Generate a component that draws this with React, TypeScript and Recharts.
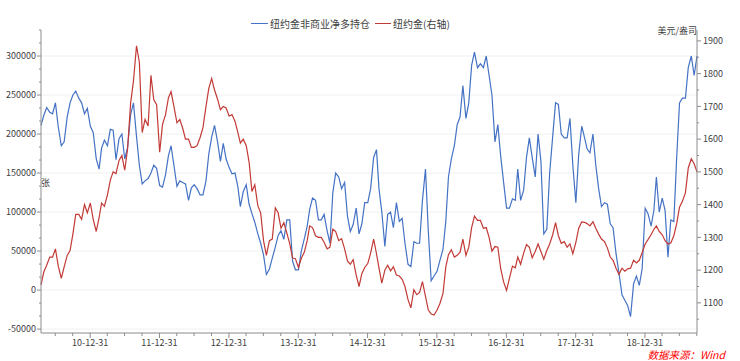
import React from 'react';
import { LineChart, Line, XAxis, YAxis, CartesianGrid } from 'recharts';

// semi-monthly sample dates
const dates = [
  '2010-04-16', '2010-05-01', '2010-05-16', '2010-06-01', '2010-06-16', '2010-07-01', '2010-07-16', '2010-08-01', '2010-08-16',
  '2010-09-01', '2010-09-16', '2010-10-01', '2010-10-16', '2010-11-01', '2010-11-16', '2010-12-01', '2010-12-16',
  '2011-01-01', '2011-01-16', '2011-02-01', '2011-02-16', '2011-03-01', '2011-03-16', '2011-04-01', '2011-04-16',
  '2011-05-01', '2011-05-16', '2011-06-01', '2011-06-16', '2011-07-01', '2011-07-16', '2011-08-01', '2011-08-16',
  '2011-09-01', '2011-09-16', '2011-10-01', '2011-10-16', '2011-11-01', '2011-11-16', '2011-12-01', '2011-12-16',
  '2012-01-01', '2012-01-16', '2012-02-01', '2012-02-16', '2012-03-01', '2012-03-16', '2012-04-01', '2012-04-16',
  '2012-05-01', '2012-05-16', '2012-06-01', '2012-06-16', '2012-07-01', '2012-07-16', '2012-08-01', '2012-08-16',
  '2012-09-01', '2012-09-16', '2012-10-01', '2012-10-16', '2012-11-01', '2012-11-16', '2012-12-01', '2012-12-16',
  '2013-01-01', '2013-01-16', '2013-02-01', '2013-02-16', '2013-03-01', '2013-03-16', '2013-04-01', '2013-04-16',
  '2013-05-01', '2013-05-16', '2013-06-01', '2013-06-16', '2013-07-01', '2013-07-16', '2013-08-01', '2013-08-16',
  '2013-09-01', '2013-09-16', '2013-10-01', '2013-10-16', '2013-11-01', '2013-11-16', '2013-12-01', '2013-12-16',
  '2014-01-01', '2014-01-16', '2014-02-01', '2014-02-16', '2014-03-01', '2014-03-16', '2014-04-01', '2014-04-16',
  '2014-05-01', '2014-05-16', '2014-06-01', '2014-06-16', '2014-07-01', '2014-07-16', '2014-08-01', '2014-08-16',
  '2014-09-01', '2014-09-16', '2014-10-01', '2014-10-16', '2014-11-01', '2014-11-16', '2014-12-01', '2014-12-16',
  '2015-01-01', '2015-01-16', '2015-02-01', '2015-02-16', '2015-03-01', '2015-03-16', '2015-04-01', '2015-04-16',
  '2015-05-01', '2015-05-16', '2015-06-01', '2015-06-16', '2015-07-01', '2015-07-16', '2015-08-01', '2015-08-16',
  '2015-09-01', '2015-09-16', '2015-10-01', '2015-10-16', '2015-11-01', '2015-11-16', '2015-12-01', '2015-12-16',
  '2016-01-01', '2016-01-16', '2016-02-01', '2016-02-16', '2016-03-01', '2016-03-16', '2016-04-01', '2016-04-16',
  '2016-05-01', '2016-05-16', '2016-06-01', '2016-06-16', '2016-07-01', '2016-07-16', '2016-08-01', '2016-08-16',
  '2016-09-01', '2016-09-16', '2016-10-01', '2016-10-16', '2016-11-01', '2016-11-16', '2016-12-01', '2016-12-16',
  '2017-01-01', '2017-01-16', '2017-02-01', '2017-02-16', '2017-03-01', '2017-03-16', '2017-04-01', '2017-04-16',
  '2017-05-01', '2017-05-16', '2017-06-01', '2017-06-16', '2017-07-01', '2017-07-16', '2017-08-01', '2017-08-16',
  '2017-09-01', '2017-09-16', '2017-10-01', '2017-10-16', '2017-11-01', '2017-11-16', '2017-12-01', '2017-12-16',
  '2018-01-01', '2018-01-16', '2018-02-01', '2018-02-16', '2018-03-01', '2018-03-16', '2018-04-01', '2018-04-16',
  '2018-05-01', '2018-05-16', '2018-06-01', '2018-06-16', '2018-07-01', '2018-07-16', '2018-08-01', '2018-08-16',
  '2018-09-01', '2018-09-16', '2018-10-01', '2018-10-16', '2018-11-01', '2018-11-16', '2018-12-01', '2018-12-16',
  '2019-01-01', '2019-01-16', '2019-02-01', '2019-02-16', '2019-03-01', '2019-03-16', '2019-04-01', '2019-04-16',
  '2019-05-01', '2019-05-16', '2019-06-01', '2019-06-16', '2019-07-01', '2019-07-16', '2019-08-01', '2019-08-16',
  '2019-09-01', '2019-09-16', '2019-10-01',
];

// 纽约金非商业净多持仓 (张)
const netLong = [
  211000, 224000, 234000, 228000, 226000, 240000, 209000, 185000, 190000, 222000,
  240000, 250000, 255000, 246000, 240000, 226000, 233000, 210000, 202000, 168000,
  155000, 182000, 192000, 185000, 206000, 205000, 167000, 194000, 200000, 168000,
  183000, 225000, 240000, 197000, 160000, 136000, 140000, 143000, 150000, 160000,
  156000, 134000, 132000, 148000, 172000, 185000, 160000, 133000, 140000, 138000,
  136000, 115000, 131000, 135000, 130000, 122000, 122000, 140000, 175000, 196000,
  211000, 190000, 165000, 188000, 168000, 157000, 149000, 150000, 132000, 107000,
  126000, 135000, 110000, 98000, 87000, 72000, 60000, 45000, 20000, 27000,
  41000, 55000, 70000, 76000, 65000, 90000, 90000, 37000, 26000, 26000,
  50000, 66000, 82000, 103000, 118000, 115000, 90000, 90000, 97000, 76000,
  60000, 125000, 150000, 145000, 130000, 138000, 95000, 75000, 84000, 105000,
  72000, 85000, 112000, 112000, 130000, 170000, 180000, 130000, 100000, 56000,
  97000, 100000, 80000, 112000, 88000, 92000, 60000, 33000, 30000, 62000,
  60000, 60000, 115000, 155000, 75000, 12000, 18000, 24000, 38000, 52000,
  88000, 145000, 168000, 185000, 212000, 222000, 262000, 220000, 240000, 288000,
  305000, 285000, 290000, 285000, 300000, 275000, 250000, 190000, 212000, 172000,
  139000, 105000, 105000, 117000, 115000, 155000, 115000, 128000, 170000, 195000,
  170000, 145000, 200000, 165000, 72000, 78000, 150000, 197000, 240000, 238000,
  200000, 195000, 195000, 220000, 160000, 112000, 174000, 210000, 195000, 181000,
  176000, 200000, 160000, 130000, 107000, 112000, 110000, 85000, 80000, 46000,
  22000, -6000, -13000, -20000, -34000, 8000, 18000, 6000, 27000, 105000,
  98000, 82000, 102000, 145000, 100000, 118000, 102000, 42000, 90000, 88000,
  170000, 240000, 246000, 246000, 285000, 300000, 275000, 300000,
];

// 纽约金 (美元/盎司)
const goldPrice = [
  1155, 1195, 1215, 1240, 1240, 1265, 1212, 1175, 1210, 1245,
  1260, 1310, 1370, 1370, 1355, 1400, 1375, 1405, 1355, 1318,
  1360, 1405, 1395, 1430, 1475, 1500, 1495, 1535, 1550, 1505,
  1570, 1710, 1777, 1885, 1835, 1620, 1660, 1640, 1795, 1720,
  1705, 1560, 1645, 1675, 1726, 1745, 1700, 1650, 1660, 1634,
  1600, 1600, 1575, 1575, 1580, 1605, 1635, 1700, 1756, 1785,
  1750, 1722, 1690, 1700, 1695, 1670, 1675, 1654, 1620, 1588,
  1600, 1580, 1530, 1440, 1461, 1397, 1375, 1290, 1245, 1290,
  1295, 1390, 1375, 1328, 1345, 1313, 1280, 1237, 1235, 1208,
  1236, 1255, 1290, 1335, 1330, 1305, 1300, 1300, 1285, 1265,
  1270, 1325, 1318, 1290, 1296, 1265, 1228, 1218, 1232, 1185,
  1150, 1190, 1208, 1220, 1252, 1295, 1250, 1207, 1160, 1200,
  1215, 1198, 1210, 1185, 1182, 1172, 1150, 1110, 1085, 1140,
  1125, 1132, 1165, 1120, 1078, 1066, 1063, 1078, 1098, 1128,
  1210, 1247, 1262, 1240, 1245, 1255, 1295, 1245, 1270, 1330,
  1365, 1352, 1352, 1328, 1330, 1300, 1258, 1272, 1270, 1205,
  1165, 1138, 1175, 1212, 1207, 1240, 1218, 1252, 1278, 1270,
  1238, 1257, 1280, 1257, 1233, 1260, 1280, 1308, 1345, 1305,
  1282, 1287, 1270, 1280, 1250, 1285, 1328, 1347, 1346, 1342,
  1335, 1348, 1328, 1310, 1295, 1287, 1268, 1240, 1230, 1205,
  1187, 1206, 1197, 1204, 1206, 1230, 1222, 1230, 1253, 1280,
  1293, 1308, 1325, 1335, 1318, 1308, 1290, 1280, 1283, 1305,
  1342, 1392, 1410, 1436, 1512, 1540, 1525, 1500,
];

const seriesNames = ['纽约金非商业净多持仓', '纽约金(右轴)'];

const xMinorTicks = [
  '2010-06-30', '2010-09-30', '2011-03-31', '2011-06-30', '2011-09-30', '2012-03-31', '2012-06-30', '2012-09-30',
  '2013-03-31', '2013-06-30', '2013-09-30', '2014-03-31', '2014-06-30', '2014-09-30', '2015-03-31', '2015-06-30',
  '2015-09-30', '2016-03-31', '2016-06-30', '2016-09-30', '2017-03-31', '2017-06-30', '2017-09-30', '2018-03-31',
  '2018-06-30', '2018-09-30', '2019-03-31', '2019-06-30', '2019-09-30',
];
const xLabelTicks = [
  '2010-12-31', '2011-12-31', '2012-12-31', '2013-12-31', '2014-12-31', '2015-12-31', '2016-12-31', '2017-12-31', '2018-12-31',
];
const xTickLabels = ['10-12-31', '11-12-31', '12-12-31', '13-12-31', '14-12-31', '15-12-31', '16-12-31', '17-12-31', '18-12-31'];

const leftMajorTicks = [-50000, 0, 50000, 100000, 150000, 200000, 250000, 300000];
const leftMinorTicks = [
  -33333, -16667, 16667, 33333, 66667, 83333, 116667, 133333, 166667, 183333,
  216667, 233333, 266667, 283333, 316667, 333333,
];
const rightMajorTicks = [1100, 1200, 1300, 1400, 1500, 1600, 1700, 1800, 1900];
const rightMinorTicks = [1050, 1150, 1250, 1350, 1450, 1550, 1650, 1750, 1850];

const BLUE = '#4472c4';
const RED = '#c23a36';
const AXIS = '#8c8c8c';
const TEXT = '#404040';
const FONT = '"Noto Sans CJK SC", "Noto Sans", sans-serif';

const chartData = dates.map((d, i) => ({
  t: Date.parse(d),
  netLong: netLong[i],
  gold: goldPrice[i],
}));

const xTicks = [...xMinorTicks, ...xLabelTicks].map(d => Date.parse(d)).sort((a, b) => a - b);
const labelByTime = new Map(xLabelTicks.map((d, i) => [Date.parse(d), xTickLabels[i]]));
const leftTicks = [...leftMajorTicks, ...leftMinorTicks].sort((a, b) => a - b);
const rightTicks = [...rightMajorTicks, ...rightMinorTicks].sort((a, b) => a - b);

function XTick({ x, y, payload }: any) {
  const label = labelByTime.get(payload.value);
  return (
    <g>
      <line x1={x} x2={x} y1={y} y2={y + (label ? 5 : 3)} stroke={AXIS} />
      {label && (
        <text x={x} y={y + 12.5} textAnchor="middle" fontSize={9} fill={TEXT} fontFamily={FONT}>
          {label}
        </text>
      )}
    </g>
  );
}

function LeftTick({ x, y, payload }: any) {
  const major = leftMajorTicks.includes(payload.value);
  return (
    <g>
      <line x1={x - (major ? 4 : 2)} x2={x} y1={y} y2={y} stroke={AXIS} />
      {major && (
        <text x={x - 5} y={y + 3.2} textAnchor="end" fontSize={9} fill={TEXT} fontFamily={FONT}>
          {payload.value}
        </text>
      )}
    </g>
  );
}

function RightTick({ x, y, payload }: any) {
  const major = rightMajorTicks.includes(payload.value);
  return (
    <g>
      <line x1={x} x2={x + (major ? 4 : 2)} y1={y} y2={y} stroke={AXIS} />
      {major && (
        <text x={x + 6} y={y + 3.2} textAnchor="start" fontSize={9} fill={TEXT} fontFamily={FONT}>
          {payload.value}
        </text>
      )}
    </g>
  );
}

export default function App() {
  return (
    <div style={{ position: 'absolute', left: 0, top: 0, width: 740, height: 361, background: '#fff', fontFamily: FONT }}>
      <LineChart width={740} height={361} data={chartData} margin={{ top: 30, right: 0, bottom: 0, left: 0 }}>
        <CartesianGrid vertical={false} yAxisId="left" horizontalValues={leftMajorTicks} stroke="#f0f0f0" />
        <XAxis
          dataKey="t"
          type="number"
          domain={['dataMin', 'dataMax']}
          ticks={xTicks}
          interval={0}
          height={28}
          tickSize={0}
          tickMargin={0}
          tickLine={false}
          tick={<XTick />}
          axisLine={{ stroke: AXIS }}
        />
        <YAxis
          yAxisId="left"
          width={41}
          domain={[-55000, 333333]}
          allowDataOverflow
          ticks={leftTicks}
          interval={0}
          tickSize={0}
          tickMargin={0}
          tickLine={false}
          tick={<LeftTick />}
          axisLine={{ stroke: AXIS }}
        />
        <YAxis
          yAxisId="right"
          orientation="right"
          width={43}
          domain={[1008, 1933.3]}
          allowDataOverflow
          ticks={rightTicks}
          interval={0}
          tickSize={0}
          tickMargin={0}
          tickLine={false}
          tick={<RightTick />}
          axisLine={{ stroke: AXIS }}
        />
        <Line
          yAxisId="left"
          dataKey="netLong"
          stroke={BLUE}
          strokeWidth={1.2}
          dot={false}
          activeDot={false}
          type="linear"
          isAnimationActive={false}
        />
        <Line
          yAxisId="right"
          dataKey="gold"
          stroke={RED}
          strokeWidth={1.2}
          dot={false}
          activeDot={false}
          type="linear"
          isAnimationActive={false}
        />
      </LineChart>

      {/* legend */}
      <div style={{ position: 'absolute', left: 251, top: 16, height: 14, display: 'flex', alignItems: 'center', fontSize: 10, color: TEXT, whiteSpace: 'nowrap' }}>
        <span style={{ display: 'inline-block', width: 17, height: 1, background: BLUE, marginRight: 2 }} />
        <span>{seriesNames[0]}</span>
        <span style={{ display: 'inline-block', width: 16, height: 1, background: RED, marginLeft: 5, marginRight: 2 }} />
        <span>{seriesNames[1]}</span>
      </div>

      {/* axis units */}
      <div style={{ position: 'absolute', left: 41, top: 177, fontSize: 9, lineHeight: '11px', color: TEXT }}>张</div>
      <div style={{ position: 'absolute', right: 43, top: 25, fontSize: 9, lineHeight: '11px', color: TEXT, whiteSpace: 'nowrap' }}>美元/盎司</div>

      {/* source */}
      <div style={{ position: 'absolute', right: 15, top: 349, fontSize: 10.5, lineHeight: '12px', color: '#ff0000', fontStyle: 'italic', whiteSpace: 'nowrap' }}>
        数据来源：Wind
      </div>
    </div>
  );
}
